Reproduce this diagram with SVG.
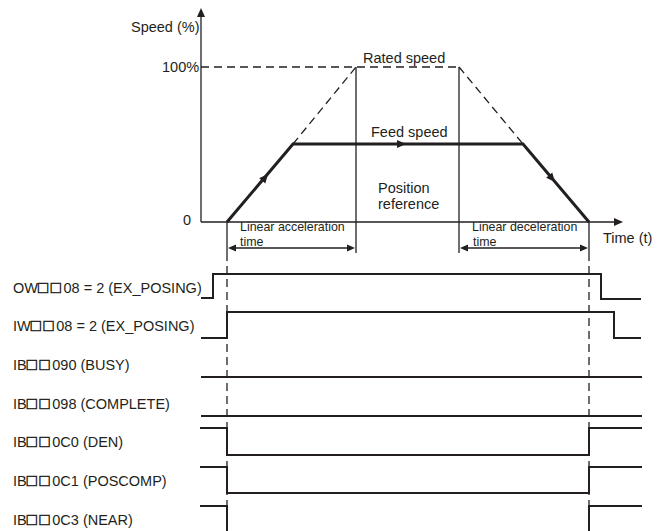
<svg xmlns="http://www.w3.org/2000/svg" width="663" height="531" viewBox="0 0 663 531">
<style>
text{font-family:"Liberation Sans",Arial,sans-serif;font-size:14.5px;fill:#231f20}
.sm{font-size:12.4px}
.sq{font-family:"Liberation Sans",Arial,sans-serif;font-size:17px;letter-spacing:2.5px;stroke:#231f20;stroke-width:0.5}
.ax{stroke:#231f20;stroke-width:1.3;fill:none}
.ds{stroke:#231f20;stroke-width:1.3;fill:none;stroke-dasharray:8,5}
.pf{stroke:#231f20;stroke-width:3;fill:none;stroke-linejoin:miter}
.sg{stroke:#231f20;stroke-width:2;fill:none}
.ah{fill:#231f20}
</style>
<defs>
<path id="ah" d="M0,0 L-9,-4 L-9,4 Z"/>
<path id="ahs" d="M0,0 L-8,-3.5 L-8,3.5 Z"/>
</defs>
<g id="connectors">
<line class="ax" x1="201" y1="222" x2="201" y2="16"/>
<use href="#ah" class="ah" transform="translate(201,8) rotate(-90)"/>
<line class="ax" x1="201" y1="222" x2="614" y2="222"/>
<use href="#ah" class="ah" transform="translate(623,222)"/>
<line class="ds" x1="201" y1="67" x2="459" y2="67"/>
<line class="ds" x1="293" y1="144" x2="356" y2="67"/>
<line class="ds" x1="459" y1="67" x2="523" y2="144"/>
<line class="ax" x1="356" y1="67" x2="356" y2="253"/>
<line class="ax" x1="459" y1="67" x2="459" y2="253"/>
<line class="ax" x1="227" y1="222" x2="227" y2="253"/>
<line class="ax" x1="589" y1="222" x2="589" y2="253"/>
<line class="ds" x1="227" y1="253" x2="227" y2="531"/>
<line class="ds" x1="589" y1="253" x2="589" y2="531"/>
<polyline class="pf" points="227,222 293,144 523,144 589,222"/>
<use href="#ah" class="ah" transform="translate(268,174) rotate(-50.2)"/>
<use href="#ah" class="ah" transform="translate(406,144)"/>
<use href="#ah" class="ah" transform="translate(555,182) rotate(49.8)"/>
<line class="ax" x1="235" y1="248" x2="348" y2="248"/>
<use href="#ahs" class="ah" transform="translate(228,248) rotate(180)"/>
<use href="#ahs" class="ah" transform="translate(355,248)"/>
<line class="ax" x1="467" y1="248" x2="581" y2="248"/>
<use href="#ahs" class="ah" transform="translate(460,248) rotate(180)"/>
<use href="#ahs" class="ah" transform="translate(588,248)"/>
</g>
<g id="axis-labels">
<text x="131" y="32">Speed (%)</text>
<text x="162" y="72">100%</text>
<text x="183" y="225">0</text>
<text x="603" y="243">Time (t)</text>
<text x="363" y="63">Rated speed</text>
<text x="371" y="137">Feed speed</text>
<text x="378" y="193">Position</text>
<text x="378" y="209">reference</text>
<text class="sm" x="240" y="231">Linear acceleration</text>
<text class="sm" x="240" y="245.5">time</text>
<text class="sm" x="472" y="231">Linear deceleration</text>
<text class="sm" x="473" y="245.5">time</text>
</g>
<g id="sig-ow">
<text x="13" y="293">OW<tspan class="sq">□□</tspan>08 = 2 (EX_POSING)</text>
<polyline class="sg" points="201,298 213,298 213,274 601,274 601,299 641,299"/>
</g>
<g id="sig-iw">
<text x="13" y="331">IW<tspan class="sq">□□</tspan>08 = 2 (EX_POSING)</text>
<polyline class="sg" points="201,338 227,338 227,312 614,312 614,338 641,338"/>
</g>
<g id="sig-busy">
<text x="13" y="370">IB<tspan class="sq">□□</tspan>090 (BUSY)</text>
<line class="sg" x1="201" y1="377" x2="642" y2="377"/>
</g>
<g id="sig-complete">
<text x="13" y="409">IB<tspan class="sq">□□</tspan>098 (COMPLETE)</text>
<line class="sg" x1="201" y1="416" x2="642" y2="416"/>
</g>
<g id="sig-den">
<text x="13" y="447">IB<tspan class="sq">□□</tspan>0C0 (DEN)</text>
<polyline class="sg" points="200,428 227,428 227,455 589,455 589,428 642,428"/>
</g>
<g id="sig-poscomp">
<text x="13" y="486">IB<tspan class="sq">□□</tspan>0C1 (POSCOMP)</text>
<polyline class="sg" points="200,467 227,467 227,493 589,493 589,467 642,467"/>
</g>
<g id="sig-near">
<text x="13" y="525">IB<tspan class="sq">□□</tspan>0C3 (NEAR)</text>
<polyline class="sg" points="200,506 227,506 227,532"/>
<polyline class="sg" points="589,532 589,506 642,506"/>
</g>
</svg>
